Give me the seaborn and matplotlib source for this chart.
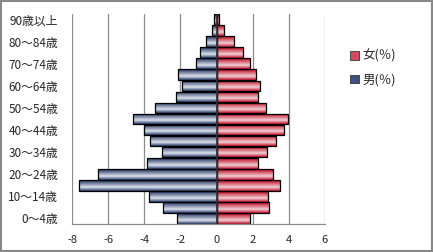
import numpy as np
import pandas as pd
import matplotlib
matplotlib.use("Agg")
import matplotlib.pyplot as plt
import seaborn as sns
from matplotlib.colors import LinearSegmentedColormap
from matplotlib.patches import Patch

# ---- data (top to bottom) ----
ages = ["90歳以上", "85〜89歳", "80〜84歳", "75〜79歳", "70〜74歳", "65〜69歳",
        "60〜64歳", "55〜59歳", "50〜54歳", "45〜49歳", "40〜44歳", "35〜39歳",
        "30〜34歳", "25〜29歳", "20〜24歳", "15〜19歳", "10〜14歳", "5〜9歳", "0〜4歳"]
male = [-0.12, -0.25, -0.58, -0.93, -1.13, -2.12, -1.90, -2.23, -3.41, -4.61,
        -4.00, -3.67, -3.00, -3.85, -6.54, -7.61, -3.72, -2.95, -2.19]
female = [0.14, 0.40, 0.97, 1.47, 1.85, 2.17, 2.40, 2.29, 2.73, 3.97,
          3.73, 3.29, 2.79, 2.29, 3.12, 3.50, 2.84, 2.90, 1.85]
series_names = ["女(％)", "男(％)"]
xticks = [-8, -6, -4, -2, 0, 2, 4, 6]

df = pd.DataFrame({"age": ages, "male": male, "female": female})

sns.set_theme(style="white")
plt.rcParams["font.family"] = ["Noto Sans CJK JP", "DejaVu Sans"]

fig = plt.figure(figsize=(4.33, 2.52), dpi=100)
ax = fig.add_axes([72/433, 1-224/252, (325-72)/433, (224-14)/252])

sns.barplot(data=df, x="male", y="age", order=ages, orient="h", ax=ax,
            color="#2a4577", width=0.96, edgecolor="black", linewidth=0.9)
n_m = len(ax.patches)
sns.barplot(data=df, x="female", y="age", order=ages, orient="h", ax=ax,
            color="#c8102e", width=0.96, edgecolor="black", linewidth=0.9)

blue_cmap = LinearSegmentedColormap.from_list(
    "b", [(0, "#1a2c5a"), (0.65, "#dde2ec"), (1, "#263b6a")])
red_cmap = LinearSegmentedColormap.from_list(
    "r", [(0, "#c00018"), (0.65, "#f0d0d6"), (1, "#c8102a")])
grad = np.linspace(0, 1, 64).reshape(-1, 1)
for i, p in enumerate(ax.patches):
    x0, y0 = p.get_x(), p.get_y()
    w, h = p.get_width(), p.get_height()
    cmap = blue_cmap if i < n_m else red_cmap
    im = ax.imshow(grad, cmap=cmap, aspect="auto",
                   extent=[x0, x0 + w, y0 + h, y0], zorder=p.get_zorder() - 0.01,
                   interpolation="bilinear")
    im.set_clip_path(p)
    p.set_facecolor("none")
    p.set_zorder(3)

ax.set_xlim(-8, 6)
ax.set_ylim(len(ages) - 0.5, -0.5)
ax.set_xticks(xticks)
ax.set_xticklabels([str(t) for t in xticks], fontsize=8)
ax.set_yticks(range(0, len(ages), 2))
ax.set_yticklabels(ages[::2], fontsize=8.5)
ax.tick_params(axis="y", length=0, pad=10)
ax.tick_params(axis="x", length=0, pad=8)
ax.set_xlabel("")
ax.set_ylabel("")

for t in xticks:
    ax.axvline(t, color="#8c8c8c", lw=0.9, zorder=0)
ax.axvline(0, color="#333333", lw=1.2, zorder=4)
for s in ["top", "right", "left"]:
    ax.spines[s].set_visible(False)
ax.spines["bottom"].set_color("#8c8c8c")
ax.spines["bottom"].set_linewidth(0.9)

# legend
handles = [Patch(facecolor="#d8485c", edgecolor="#333333", lw=0.6),
           Patch(facecolor="#3c5282", edgecolor="#333333", lw=0.6)]
fig.legend(handles, series_names, loc="upper left",
           bbox_to_anchor=(344/433, 1-43/252), frameon=False, fontsize=9,
           handlelength=0.7, handleheight=0.7, handletextpad=0.25,
           labelspacing=0.85, borderpad=0)

# outer border
fig.patches.append(plt.Rectangle((0.002, 0.003), 0.995, 0.994, transform=fig.transFigure,
                                 fill=False, edgecolor="#888888", lw=1.5))

fig.savefig("out.png", dpi=100)
